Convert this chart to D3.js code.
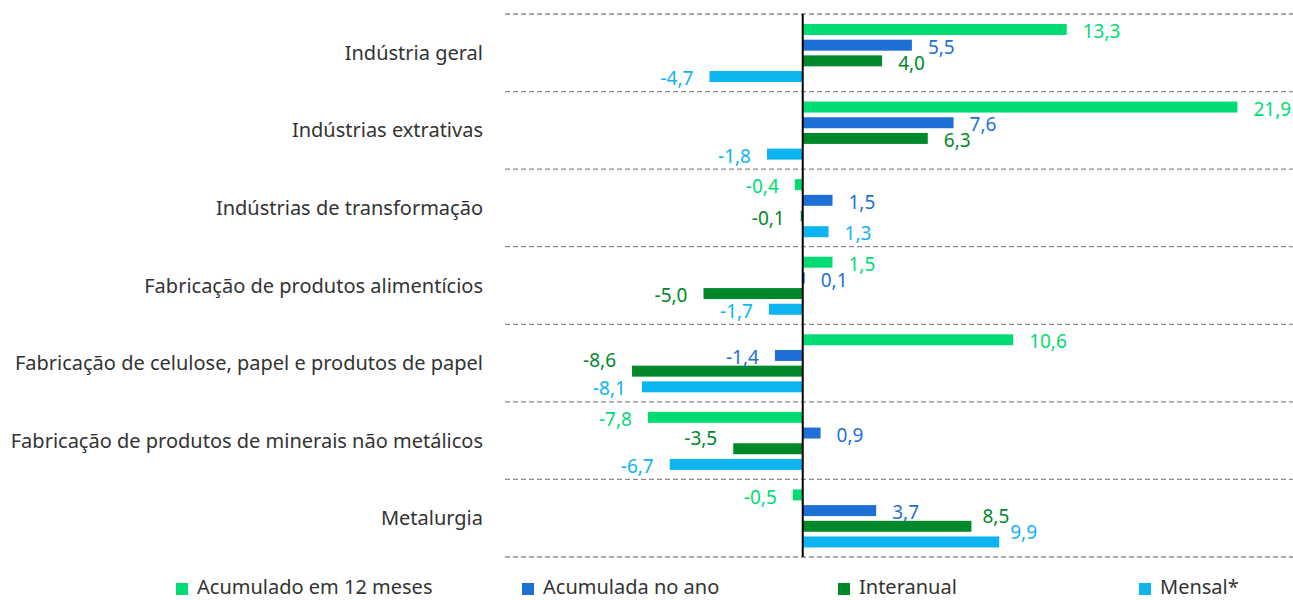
<!DOCTYPE html>
<html>
<head>
<meta charset="utf-8">
<script src="https://cdn.jsdelivr.net/npm/d3@7"></script>
<style>
  body { margin: 0; background: #fff; }
  text { font-family: "Noto Sans", "Open Sans", sans-serif; }
</style>
</head>
<body>
<svg width="1293" height="600"></svg>
<script>
// Data
var categories = [
    "Indústria geral",
    "Indústrias extrativas",
    "Indústrias de transformação",
    "Fabricação de produtos alimentícios",
    "Fabricação de celulose, papel e produtos de papel",
    "Fabricação de produtos de minerais não metálicos",
    "Metalurgia"
];
var seriesNames = ["Acumulado em 12 meses", "Acumulada no ano", "Interanual", "Mensal*"];
var acumulado12 = [13.3, 21.9, -0.4, 1.5, 10.6, -7.8, -0.5];
var acumuladoAno = [5.5, 7.6, 1.5, 0.1, -1.4, 0.9, 3.7];
var interanual = [4.0, 6.3, -0.1, -5.0, -8.6, -3.5, 8.5];
var mensal = [-4.7, -1.8, 1.3, -1.7, -8.1, -6.7, 9.9];

var seriesValues = [acumulado12, acumuladoAno, interanual, mensal];
var colors = ["#00DC74", "#1F70D6", "#00892A", "#0CB4F0"];

// label nudges where the labels were moved to avoid overlaps
var labelNudge = { "4-2": -13, "5-2": -12, "6-2": -12, "6-3": -12 };

var svg = d3.select("svg");

var x = d3.scaleLinear().domain([-15, 24.7]).range([505, 1293]);
var y0 = d3.scaleBand().domain(categories).range([14, 557]).padding(0);
var y1 = d3.scaleBand().domain(d3.range(4))
    .range([y0.bandwidth() * 0.129, y0.bandwidth() * 0.877])
    .paddingInner(0.3);

// dashed separators
var seps = d3.range(categories.length + 1).map(i => 14 + i * y0.bandwidth());
svg.selectAll(".sep").data(seps).enter().append("line")
    .attr("class", "sep")
    .attr("x1", 505).attr("x2", 1293)
    .attr("y1", d => d).attr("y2", d => d)
    .attr("stroke", "#8c8c8c")
    .attr("stroke-width", 1.3)
    .attr("stroke-dasharray", "5,3");

// category labels
svg.selectAll(".cat").data(categories).enter().append("text")
    .attr("class", "cat")
    .attr("x", 483)
    .attr("y", d => y0(d) + y0.bandwidth() / 2)
    .attr("dy", "0.35em")
    .attr("text-anchor", "end")
    .attr("font-size", "20px")
    .attr("fill", "#333")
    .text(d => d);

// bars
var rows = [];
categories.forEach((c, ci) => {
    seriesValues.forEach((vals, si) => {
        rows.push({ cat: c, ci: ci, si: si, value: vals[ci] });
    });
});

var groups = svg.selectAll(".grp").data(categories).enter().append("g")
    .attr("class", "grp")
    .attr("transform", d => "translate(0," + y0(d) + ")");

groups.selectAll("rect")
    .data(c => rows.filter(r => r.cat === c))
    .enter().append("rect")
    .attr("x", d => x(Math.min(0, d.value)))
    .attr("y", d => y1(d.si))
    .attr("width", d => Math.max(1, Math.abs(x(d.value) - x(0))))
    .attr("height", y1.bandwidth())
    .attr("fill", d => colors[d.si]);

groups.selectAll(".lbl")
    .data(c => rows.filter(r => r.cat === c))
    .enter().append("text")
    .attr("class", "lbl")
    .attr("x", d => d.value >= 0 ? x(d.value) + (labelNudge[d.ci + "-" + d.si] ? 11 : 16) : x(d.value) - 16)
    .attr("y", d => y1(d.si) + y1.bandwidth() / 2 + 2 + (labelNudge[d.ci + "-" + d.si] || 0))
    .attr("dy", "0.35em")
    .attr("text-anchor", d => d.value >= 0 ? "start" : "end")
    .attr("font-size", "19px")
    .attr("fill", d => colors[d.si])
    .text(d => d3.format(".1f")(d.value).replace(".", ",").replace("−", "-"));

// zero line
svg.append("line")
    .attr("x1", x(0)).attr("x2", x(0))
    .attr("y1", 14).attr("y2", 557)
    .attr("stroke", "#000")
    .attr("stroke-width", 2);

// legend
var legendX = [176, 522, 838, 1139];
var legend = svg.selectAll(".leg").data(seriesNames).enter().append("g")
    .attr("class", "leg")
    .attr("transform", (d, i) => "translate(" + legendX[i] + ",583)");
legend.append("rect")
    .attr("width", 12).attr("height", 12)
    .attr("fill", (d, i) => colors[i]);
legend.append("text")
    .attr("x", 21).attr("y", 11)
    .attr("font-size", "20px")
    .attr("fill", "#333")
    .text(d => d);
</script>
</body>
</html>
